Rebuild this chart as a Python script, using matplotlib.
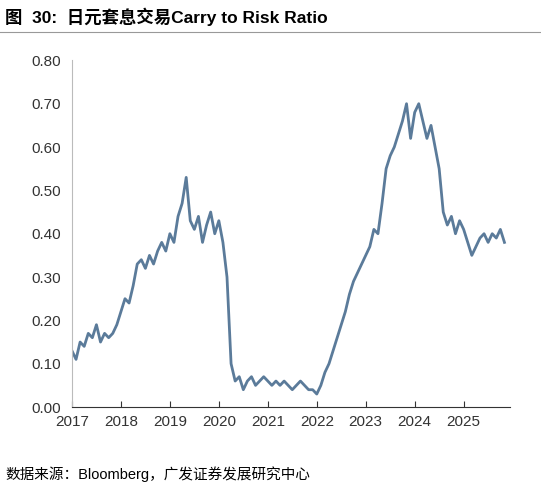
import matplotlib.pyplot as plt
import numpy as np

plt.rcParams['font.family'] = ['Liberation Sans', 'Noto Sans CJK SC', 'DejaVu Sans']

values = [
 0.13,0.11,0.15,0.14,0.17,0.16,0.19,0.15,0.17,0.16,0.17,0.19,
 0.22,0.25,0.24,0.28,0.33,0.34,0.32,0.35,0.33,0.36,0.38,0.36,
 0.40,0.38,0.44,0.47,0.53,0.43,0.41,0.44,0.38,0.42,0.45,0.40,
 0.43,0.38,0.30,0.10,0.06,0.07,0.04,0.06,0.07,0.05,0.06,0.07,
 0.06,0.05,0.06,0.05,0.06,0.05,0.04,0.05,0.06,0.05,0.04,0.04,
 0.03,0.05,0.08,0.10,0.13,0.16,0.19,0.22,0.26,0.29,0.31,0.33,
 0.35,0.37,0.41,0.40,0.47,0.55,0.58,0.60,0.63,0.66,0.70,0.62,
 0.68,0.70,0.66,0.62,0.65,0.60,0.55,0.45,0.42,0.44,0.40,0.43,
 0.41,0.38,0.35,0.37,0.39,0.40,0.38,0.40,0.39,0.41,0.38]
years = [2017,2018,2019,2020,2021,2022,2023,2024,2025]
x = 2017 + np.arange(len(values))/12.0

fig = plt.figure(figsize=(5.41,4.91), dpi=100)
ax = fig.add_axes([0.133, 0.171, 0.81, 0.706])
ax.plot(x, values, color='#5b7b9a', lw=2)
ax.set_xlim(2017, 2025.95)
ax.set_ylim(0, 0.8)
ax.set_yticks(np.arange(0, 0.81, 0.1))
ax.set_yticklabels([f'{v:.2f}' for v in np.arange(0, 0.81, 0.1)])
ax.set_xticks(years)
ax.set_xticklabels([str(y) for y in years])
for s in ['top','right']:
    ax.spines[s].set_visible(False)
ax.spines['left'].set_color('#bbbbbb')
ax.spines['bottom'].set_color('#333333')
ax.tick_params(axis='y', length=0, pad=8, labelsize=11, colors='#333333')
ax.tick_params(axis='x', direction='in', length=4, pad=6, labelsize=11, colors='#333333')
fig.text(0.01, 0.965, '图  30:  日元套息交易Carry to Risk Ratio', fontsize=12.5, fontweight='bold', va='center')
fig.add_artist(plt.Line2D([0.0, 1.0], [0.935, 0.935], color='#999999', lw=0.8))
fig.text(0.01, 0.035, '数据来源：Bloomberg，广发证券发展研究中心', fontsize=10.5, va='center')
fig.savefig('out.png', dpi=100)
